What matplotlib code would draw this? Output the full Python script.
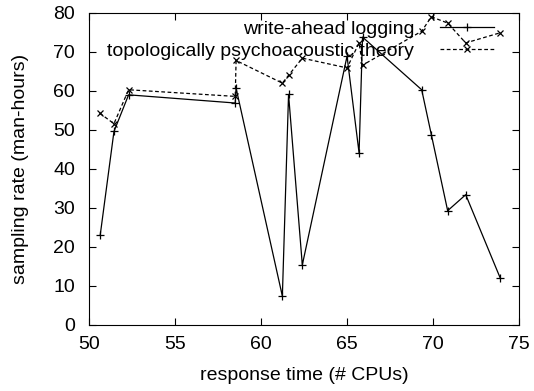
import matplotlib
matplotlib.use("Agg")
import matplotlib.pyplot as plt

plt.rcParams["font.family"] = ["Liberation Sans", "DejaVu Sans"]

# write-ahead logging (solid, + markers)
wal_x = [50.65, 51.45, 52.3, 58.5, 58.55, 61.24, 61.6, 62.4, 65.0, 65.7, 65.9, 69.34, 69.9, 70.85, 71.9, 73.9]
wal_y = [23.0, 49.6, 59.0, 56.9, 60.7, 7.4, 59.1, 15.4, 68.9, 44.1, 73.8, 60.3, 48.8, 29.3, 33.4, 12.1]

# topologically psychoacoustic theory (dashed, x markers)
tpt_x = [50.62, 51.45, 52.3, 58.5, 58.55, 61.24, 61.6, 62.4, 65.0, 65.7, 65.9, 69.34, 69.9, 70.85, 71.9, 73.9]
tpt_y = [54.3, 51.6, 60.3, 58.6, 67.8, 62.0, 64.0, 68.4, 65.9, 72.3, 66.6, 75.3, 79.0, 77.4, 72.3, 74.9]

x_ticks = [50, 55, 60, 65, 70, 75]
y_ticks = [0, 10, 20, 30, 40, 50, 60, 70, 80]

fig = plt.figure(figsize=(5.34, 3.91), dpi=100)
ax = fig.add_axes([0.1667, 0.1688, 0.8053, 0.7982])

ax.plot(wal_x, wal_y, "k-", lw=0.9, marker="+", ms=6, mew=0.9, label="write-ahead logging")
ax.plot(tpt_x, tpt_y, "k--", lw=0.9, marker="x", ms=5, mew=0.9, dashes=(3, 2),
        label="topologically psychoacoustic theory")

ax.set_xlim(50, 75)
ax.set_ylim(0, 80)
ax.set_xticks(x_ticks)
ax.set_yticks(y_ticks)
ax.tick_params(direction="in", top=True, right=True, labelsize=14, length=5, width=0.8)
ax.tick_params(axis="y", pad=10)
ax.tick_params(axis="x", pad=8)
ax.set_xlabel("response time (# CPUs)", fontsize=14)
ax.set_ylabel("sampling rate (man-hours)", fontsize=14)
ax.xaxis.set_label_coords(0.5, -0.135)
ax.yaxis.set_label_coords(-0.14, 0.5)

ax.legend(loc="upper right", bbox_to_anchor=(0.96, 1.0), frameon=False,
          markerfirst=False, fontsize=14, handlelength=2.8, handletextpad=1.3,
          borderaxespad=0.3, labelspacing=0.2, borderpad=0.1)

fig.savefig("out.png", dpi=100)
